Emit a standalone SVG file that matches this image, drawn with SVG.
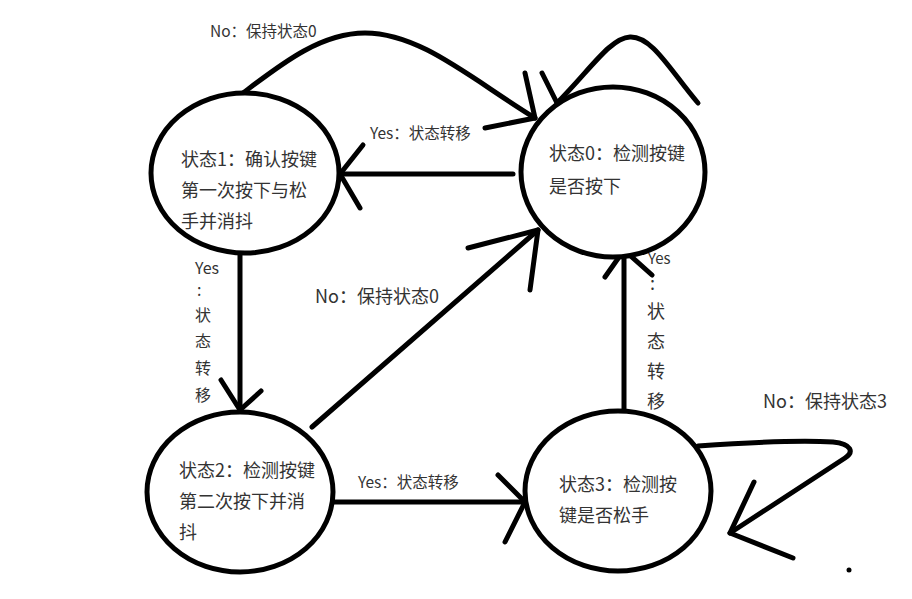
<svg xmlns="http://www.w3.org/2000/svg" width="912" height="599" viewBox="0 0 912 599">
<style>
.node{fill:#fff;stroke:#000;stroke-width:5}
.ln{fill:none;stroke:#000;stroke-width:5;stroke-linecap:round;stroke-linejoin:round}
text{font-family:"Noto Sans CJK SC","Microsoft YaHei",sans-serif;fill:#333}
.nt{font-size:18px}
.sm{font-size:15.5px}
.md{font-size:18px}
.v1{font-size:16px}
.v2{font-size:18px}
</style>
<rect width="912" height="599" fill="#fff"/>
<g id="connectors">
  <!-- top arc state1 -> state0 -->
  <path class="ln" d="M243,93 C280,65 320,33 365,33 C420,33 470,78 535,118"/>
  <polyline class="ln" points="525,73 535,118 485,128"/>
  <!-- self loop state0 -->
  <path class="ln" d="M557,103 C590,70 610,38 630,37 C652,36 670,70 698,103"/>
  <polyline class="ln" points="542,73 557,103 603,107"/>
  <!-- state0 -> state1 -->
  <line class="ln" x1="513" y1="174" x2="340" y2="174"/>
  <polyline class="ln" points="363,145 340,174 360,208"/>
  <!-- state1 -> state2 -->
  <line class="ln" x1="240" y1="252" x2="240" y2="410"/>
  <polyline class="ln" points="221,380 240,410 261,391"/>
  <!-- state2 -> state0 -->
  <line class="ln" x1="312" y1="427" x2="538" y2="230"/>
  <polyline class="ln" points="468,248 538,230 530,290"/>
  <!-- state2 -> state3 -->
  <line class="ln" x1="333" y1="502" x2="525" y2="502"/>
  <polyline class="ln" points="498,475 525,502 505,542"/>
  <!-- state3 -> state0 -->
  <line class="ln" x1="624" y1="411" x2="624" y2="250"/>
  <polyline class="ln" points="605,277 624,250 652,275"/>
  <!-- self loop state3 -->
  <path class="ln" d="M698,446 C740,443 800,440 833,442 C852,444 854,452 845,458 L730,533"/>
  <polyline class="ln" points="754,482 730,533 793,558"/>
  <circle cx="849" cy="570" r="2.5" fill="#000"/>
</g>
<g id="state1">
  <ellipse class="node" cx="245" cy="173" rx="94" ry="80"/>
  <text class="nt" x="181" y="166">状态1：确认按键</text>
  <text class="nt" x="181" y="197">第一次按下与松</text>
  <text class="nt" x="181" y="228">手并消抖</text>
</g>
<g id="state0">
  <ellipse class="node" cx="613" cy="172" rx="92" ry="85"/>
  <text class="nt" x="549" y="160">状态0：检测按键</text>
  <text class="nt" x="549" y="193">是否按下</text>
</g>
<g id="state2">
  <ellipse class="node" cx="240" cy="492" rx="93" ry="80"/>
  <text class="nt" x="179" y="477">状态2：检测按键</text>
  <text class="nt" x="179" y="508">第二次按下并消</text>
  <text class="nt" x="179" y="539">抖</text>
</g>
<g id="state3">
  <ellipse class="node" cx="618" cy="491" rx="93" ry="80"/>
  <text class="nt" x="559" y="491">状态3：检测按</text>
  <text class="nt" x="559" y="522">键是否松手</text>
</g>
<g id="labels">
  <text class="sm" x="210" y="37">No：保持状态0</text>
  <text class="sm" x="370" y="139">Yes：状态转移</text>
  <text class="sm" x="358" y="488">Yes：状态转移</text>
  <text class="md" x="315" y="303">No：保持状态0</text>
  <text class="md" x="763" y="408">No：保持状态3</text>
  <text class="v1" x="195" y="274" font-size="14">Yes</text>
  <text class="v1" x="197" y="296">:</text>
  <text class="v1" x="195" y="321">状</text>
  <text class="v1" x="195" y="347">态</text>
  <text class="v1" x="195" y="374">转</text>
  <text class="v1" x="195" y="401">移</text>
  <text class="v2" x="648" y="264" style="font-size:15px">Yes</text>
  <text class="v2" x="650" y="290">:</text>
  <text class="v2" x="647" y="318">状</text>
  <text class="v2" x="647" y="348">态</text>
  <text class="v2" x="647" y="378">转</text>
  <text class="v2" x="647" y="408">移</text>
</g>
</svg>
